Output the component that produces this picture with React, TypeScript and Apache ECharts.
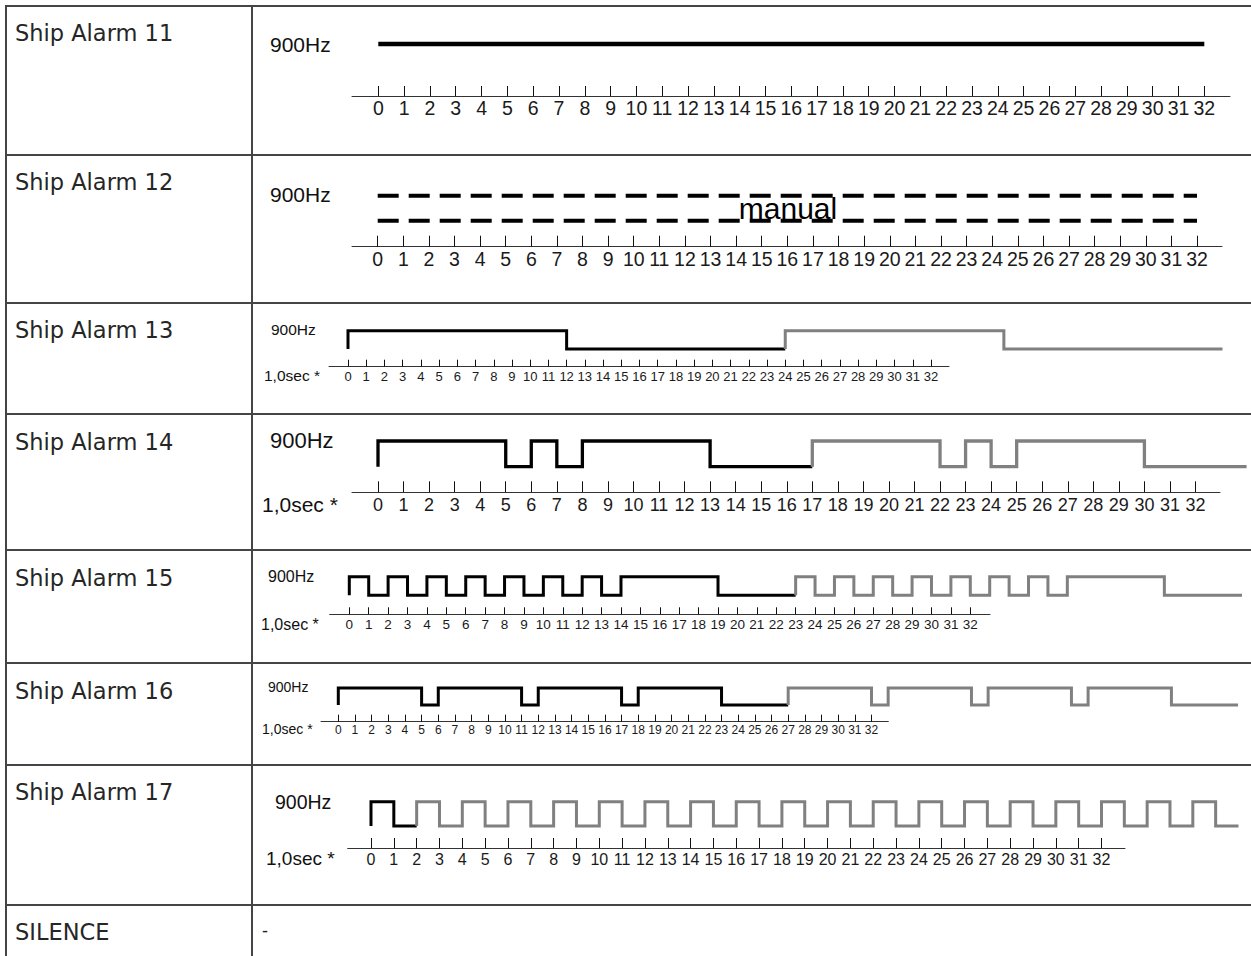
import React, { useEffect, useRef } from "react";
import * as echarts from "echarts";

// ---------- data ----------
const rowLabels = [
  "Ship Alarm 11",
  "Ship Alarm 12",
  "Ship Alarm 13",
  "Ship Alarm 14",
  "Ship Alarm 15",
  "Ship Alarm 16",
  "Ship Alarm 17",
  "SILENCE",
];
const timeTicks = [0, 1, 2, 3, 4, 5, 6, 7, 8, 9, 10, 11, 12, 13, 14, 15, 16, 17, 18, 19, 20, 21, 22, 23, 24, 25, 26, 27, 28, 29, 30, 31, 32];
const toneLabel = "900Hz";
const timeLabel = "1,0sec *";
const manualLabel = "manual";
const silenceValue = "-";

// [time, level] transitions (level 1 = tone on)
const alarm11Tone = [[0, 1], [32, 1]];
const alarm12Upper = [[0, 1], [32, 1]];
const alarm12Lower = [[0, 0], [32, 0]];
const alarm13Cycle = [[0, 0], [0, 1], [12, 0], [24, 0]];
const alarm13Repeat = [[24, 0], [24, 1], [36, 0], [48, 0]];
const alarm14Cycle = [[0, 0], [0, 1], [5, 0], [6, 1], [7, 0], [8, 1], [13, 0], [17, 0]];
const alarm14Repeat = [[17, 0], [17, 1], [22, 0], [23, 1], [24, 0], [25, 1], [30, 0], [34, 0]];
const alarm15Cycle = [[0, 0], [0, 1], [1, 0], [2, 1], [3, 0], [4, 1], [5, 0], [6, 1], [7, 0], [8, 1], [9, 0], [10, 1], [11, 0], [12, 1], [13, 0], [14, 1], [19, 0], [23, 0]];
const alarm15Repeat = [[23, 0], [23, 1], [24, 0], [25, 1], [26, 0], [27, 1], [28, 0], [29, 1], [30, 0], [31, 1], [32, 0], [33, 1], [34, 0], [35, 1], [36, 0], [37, 1], [42, 0], [46, 0]];
const alarm16Cycle = [[0, 0], [0, 1], [5, 0], [6, 1], [11, 0], [12, 1], [17, 0], [18, 1], [23, 0], [27, 0]];
const alarm16Repeat = [[27, 0], [27, 1], [32, 0], [33, 1], [38, 0], [39, 1], [44, 0], [45, 1], [50, 0], [54, 0]];
const alarm17Cycle = [[0, 0], [0, 1], [1, 0], [2, 0]];
const alarm17Repeat = [[2, 0], [2, 1], [3, 0], [4, 1], [5, 0], [6, 1], [7, 0], [8, 1], [9, 0], [10, 1], [11, 0], [12, 1], [13, 0], [14, 1], [15, 0], [16, 1], [17, 0], [18, 1], [19, 0], [20, 1], [21, 0], [22, 1], [23, 0], [24, 1], [25, 0], [26, 1], [27, 0], [28, 1], [29, 0], [30, 1], [31, 0], [32, 1], [33, 0], [34, 1], [35, 0], [36, 1], [37, 0], [38, 0]];

// ---------- layout & style ----------
const W = 1251;
const H = 956;
const BLACK = "#000000";
const GRAY = "#808080";
const LINE = "#454545";
const TICKFONT = "'Liberation Sans Narrow', 'Arial Narrow', 'Liberation Sans', Arial, sans-serif";
const ARIAL = "'Liberation Sans', Arial, sans-serif";
const CELL = "'DejaVu Sans', 'Noto Sans', sans-serif";

const rowLines = [6, 155, 303, 414, 550, 663, 765, 905];
const labelY = [33, 182, 330, 442, 578, 691, 792, 932];

const rowGeom = [
  { highY: 44, lowY: 70, axisY: 96, axisStart: 352, axisEnd: 1230, x0: 378.3, x32: 1204.3, tick: 10, fs: 19.5, margin: 2 },
  { highY: 195.7, lowY: 220.7, axisY: 246.7, axisStart: 352, axisEnd: 1222, x0: 377.7, x32: 1197, tick: 11, fs: 19.5, margin: 2 },
  { highY: 330.7, lowY: 349, axisY: 366.7, axisStart: 329, axisEnd: 949, x0: 348, x32: 931, tick: 7, fs: 13, margin: 3 },
  { highY: 441, lowY: 466.7, axisY: 492.3, axisStart: 352, axisEnd: 1220, x0: 378, x32: 1195.5, tick: 11, fs: 18, margin: 4 },
  { highY: 576.7, lowY: 595.3, axisY: 614.3, axisStart: 329.7, axisEnd: 990, x0: 349.3, x32: 970.3, tick: 7, fs: 13.5, margin: 3 },
  { highY: 688, lowY: 705, axisY: 721.7, axisStart: 321, axisEnd: 888.3, x0: 338.3, x32: 871.5, tick: 7, fs: 12, margin: 2 },
  { highY: 801.7, lowY: 826, axisY: 848, axisStart: 347.7, axisEnd: 1125, x0: 371, x32: 1101.5, tick: 10, fs: 16, margin: 3.5 },
];

type Wave = { data: number[][]; color: string; width: number; dash?: number[] };
const waves: Wave[][] = [
  [{ data: alarm11Tone, color: BLACK, width: 4.5 }],
  [
    { data: alarm12Upper, color: BLACK, width: 4, dash: [21, 10] },
    { data: alarm12Lower, color: BLACK, width: 4, dash: [21, 10] },
  ],
  [
    { data: alarm13Cycle, color: BLACK, width: 3 },
    { data: alarm13Repeat, color: GRAY, width: 3 },
  ],
  [
    { data: alarm14Cycle, color: BLACK, width: 3.3 },
    { data: alarm14Repeat, color: GRAY, width: 3.3 },
  ],
  [
    { data: alarm15Cycle, color: BLACK, width: 3 },
    { data: alarm15Repeat, color: GRAY, width: 3 },
  ],
  [
    { data: alarm16Cycle, color: BLACK, width: 3 },
    { data: alarm16Repeat, color: GRAY, width: 3 },
  ],
  [
    { data: alarm17Cycle, color: BLACK, width: 3 },
    { data: alarm17Repeat, color: GRAY, width: 3 },
  ],
];

// side labels: [x, y, fontSize] for "900Hz" and "1,0sec *"
const toneLabelPos = [
  [270, 44, 21],
  [270, 194, 21],
  [271, 329, 15.5],
  [270, 440, 22],
  [268, 576, 16],
  [268, 687, 14],
  [275, 802, 19.5],
];
const timeLabelPos: (number[] | null)[] = [
  null,
  null,
  [264, 375, 15.5],
  [262, 504, 21],
  [261, 624, 16],
  [262, 729, 14],
  [266, 858, 19],
];

function buildOption() {
  const n = rowGeom.length;
  const grid: any[] = [];
  const xAxis: any[] = [];
  const yAxis: any[] = [];

  // axis grids (0..n-1)
  rowGeom.forEach((g, i) => {
    const unit = (g.x32 - g.x0) / 32;
    grid.push({
      left: g.axisStart,
      top: g.axisY - 10,
      width: g.axisEnd - g.axisStart,
      height: 10,
      containLabel: false,
      outerBoundsMode: "none",
    });
    xAxis.push({
      type: "value",
      gridIndex: i,
      min: (g.axisStart - g.x0) / unit,
      max: (g.axisEnd - g.x0) / unit,
      position: "bottom",
      splitLine: { show: false },
      axisLine: { show: true, onZero: false, lineStyle: { color: "#333333", width: 1 } },
      axisTick: {
        show: true,
        inside: true,
        length: g.tick,
        customValues: timeTicks,
        lineStyle: { color: "#111111", width: 1 },
      },
      axisLabel: {
        show: true,
        customValues: timeTicks,
        margin: g.margin,
        fontSize: g.fs,
        fontFamily: TICKFONT,
        color: "#1a1a1a",
        formatter: (v: number) => String(v),
      },
    });
    yAxis.push({ type: "value", gridIndex: i, min: 0, max: 1, show: false });
  });

  // waveform grids (n..2n-1), same time scale, wide enough for the whole trace
  rowGeom.forEach((g, i) => {
    const unit = (g.x32 - g.x0) / 32;
    let tEnd = 0;
    waves[i].forEach((w) => w.data.forEach((p) => (tEnd = Math.max(tEnd, p[0]))));
    const h = g.lowY - g.highY;
    grid.push({
      left: g.x0 - unit,
      width: unit * (tEnd + 2),
      top: g.highY - 0.5 * h,
      height: 2 * h,
      containLabel: false,
      outerBoundsMode: "none",
    });
    xAxis.push({ type: "value", gridIndex: n + i, min: -1, max: tEnd + 1, show: false });
    yAxis.push({ type: "value", gridIndex: n + i, min: -0.5, max: 1.5, show: false });
  });

  const series: any[] = [];
  waves.forEach((ws, i) => {
    ws.forEach((w) => {
      series.push({
        type: "line",
        xAxisIndex: n + i,
        yAxisIndex: n + i,
        data: w.data,
        step: "end",
        symbol: "none",
        showSymbol: false,
        clip: false,
        silent: true,
        lineStyle: {
          color: w.color,
          width: w.width,
          type: w.dash ? w.dash : "solid",
          cap: "butt",
          join: "miter",
        },
      });
    });
  });

  const graphic: any[] = [];
  graphic.push({ type: "line", shape: { x1: 6, y1: 6, x2: 6, y2: H }, style: { stroke: LINE, lineWidth: 2 }, silent: true });
  graphic.push({ type: "line", shape: { x1: 252, y1: 6, x2: 252, y2: H }, style: { stroke: LINE, lineWidth: 2 }, silent: true });
  rowLines.forEach((y) => {
    graphic.push({ type: "line", shape: { x1: 5, y1: y, x2: W, y2: y }, style: { stroke: LINE, lineWidth: 2 }, silent: true });
  });
  rowLabels.forEach((t, i) => {
    graphic.push({
      type: "text",
      x: 15,
      y: labelY[i],
      silent: true,
      style: { text: t, fontSize: 22.5, fontFamily: CELL, fill: "#262626", align: "left", verticalAlign: "middle" },
    });
  });
  toneLabelPos.forEach((p) => {
    graphic.push({
      type: "text",
      x: p[0],
      y: p[1],
      silent: true,
      style: { text: toneLabel, fontSize: p[2], fontFamily: ARIAL, fill: "#111111", align: "left", verticalAlign: "middle" },
    });
  });
  timeLabelPos.forEach((p) => {
    if (!p) return;
    graphic.push({
      type: "text",
      x: p[0],
      y: p[1],
      silent: true,
      style: { text: timeLabel, fontSize: p[2], fontFamily: ARIAL, fill: "#111111", align: "left", verticalAlign: "middle" },
    });
  });
  graphic.push({
    type: "text",
    x: 788,
    y: 208,
    silent: true,
    style: { text: manualLabel, fontSize: 30, fontFamily: ARIAL, fill: "#000000", align: "center", verticalAlign: "middle" },
  });
  graphic.push({
    type: "text",
    x: 262,
    y: 931,
    silent: true,
    style: { text: silenceValue, fontSize: 18, fontFamily: ARIAL, fill: "#222222", align: "left", verticalAlign: "middle" },
  });

  return {
    animation: false,
    backgroundColor: "#ffffff",
    grid,
    xAxis,
    yAxis,
    series,
    graphic,
  };
}

export default function App() {
  const ref = useRef<HTMLDivElement>(null);
  useEffect(() => {
    document.body.style.margin = "0";
    document.body.style.overflow = "hidden";
    if (!ref.current) return;
    const chart = echarts.init(ref.current, null, { renderer: "svg", width: W, height: H });
    chart.setOption(buildOption() as any);
    return () => {
      chart.dispose();
    };
  }, []);
  return <div ref={ref} style={{ width: W, height: H, background: "#fff" }} />;
}
